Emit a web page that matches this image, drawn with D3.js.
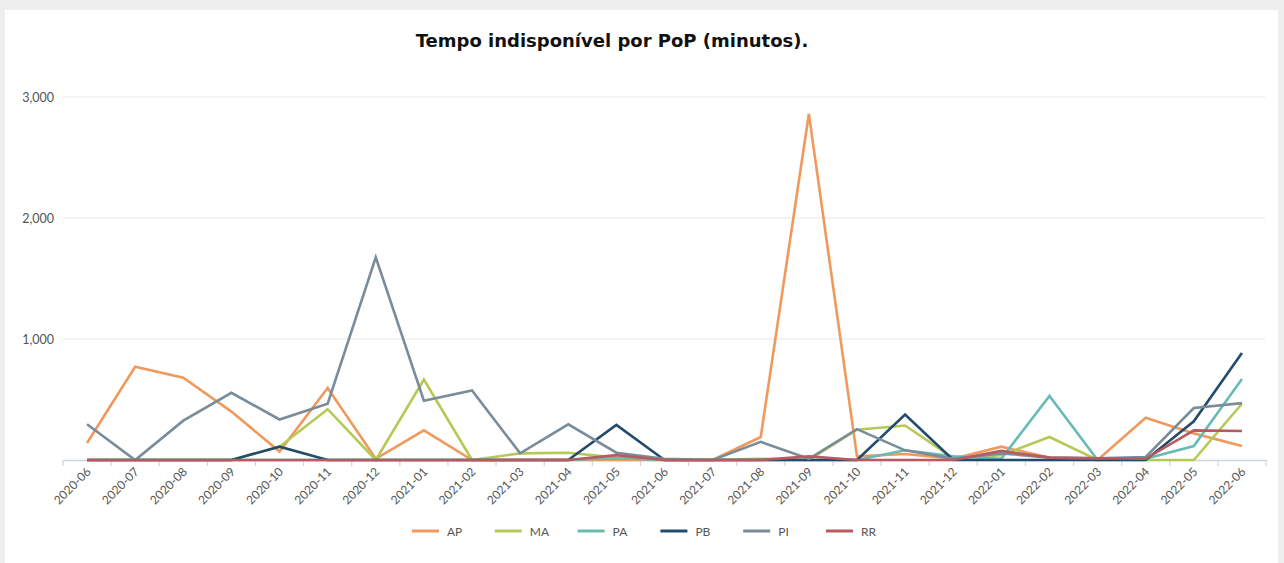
<!DOCTYPE html>
<html><head><meta charset="utf-8">
<script src="https://cdn.jsdelivr.net/npm/d3@7"></script>
<style>
html,body{margin:0;padding:0;background:#eeeeee;}
svg{display:block;}
</style></head>
<body>
<svg id="chart" width="1284" height="563"></svg>
<script>
const months = ["2020-06","2020-07","2020-08","2020-09","2020-10","2020-11","2020-12","2021-01","2021-02","2021-03","2021-04","2021-05","2021-06","2021-07","2021-08","2021-09","2021-10","2021-11","2021-12","2022-01","2022-02","2022-03","2022-04","2022-05","2022-06"];
const seriesNames = ["AP","MA","PA","PB","PI","RR"];
const AP = [140,770,680,400,70,595,10,245,0,0,0,0,0,0,190,2860,30,50,10,110,20,0,350,220,115];
const MA = [0,0,0,0,110,420,0,665,0,55,60,20,0,0,10,0,250,285,15,40,190,0,0,0,465];
const PA = [0,0,0,0,0,0,0,0,0,0,0,15,0,0,0,0,0,80,30,10,530,0,10,115,670];
const PB = [0,0,0,0,110,0,0,0,0,0,0,290,0,0,0,0,0,375,0,0,0,0,0,320,885];
const PI = [295,0,325,555,335,465,1675,490,575,55,295,60,10,0,150,10,255,80,10,55,20,15,25,430,470];
const RR = [0,0,0,0,0,0,0,0,0,0,0,40,0,0,0,30,0,0,0,75,20,15,10,245,240];
const yTicks = [0,1000,2000,3000];
const colors = ["#f0995d","#b5c957","#68bab6","#244b6c","#7a8c99","#b85a5f"];

(function(){
const data = [AP,MA,PA,PB,PI,RR];
const svg = d3.select("#chart");
const font = "Lato, 'Open Sans', sans-serif";

// white panel
svg.append("rect").attr("x",5).attr("y",10).attr("width",1273).attr("height",553).attr("fill","#ffffff");

const mLeft = 63, mRight = 1266, mTop = 97, mBottom = 460;
const x = d3.scaleBand().domain(months).range([mLeft,mRight]);
const y = d3.scaleLinear().domain([0,3000]).range([mBottom,mTop]);

// gridlines
svg.append("g").selectAll("line").data(yTicks.filter(d=>d>0)).join("line")
  .attr("x1",mLeft).attr("x2",mRight-1).attr("y1",d=>y(d)).attr("y2",d=>y(d))
  .attr("stroke","#e3e7ee").attr("stroke-width",1);

// y labels
svg.append("g").selectAll("text").data(yTicks.filter(d=>d>0)).join("text")
  .attr("x",54).attr("y",d=>y(d)+4.5).attr("text-anchor","end")
  .attr("font-family",font).attr("font-size",12.5).attr("fill","#555")
  .text(d=>d3.format(",")(d));

// x axis
const xAxis = d3.axisBottom(x).tickSize(0).tickFormat(d=>d);
const gx = svg.append("g").attr("transform",`translate(0,${mBottom})`).call(xAxis);
gx.select(".domain").attr("stroke","#ccd5df").attr("stroke-width",1.5);
gx.selectAll(".tick text")
  .attr("font-family",font).attr("font-size",12).attr("fill","#555")
  .attr("text-anchor","end").attr("dy",0).attr("y",0)
  .attr("transform","translate(4.5,12.5) rotate(-45)");
// boundary ticks
const bounds = months.map(m=>x(m)).concat([mRight]);
svg.append("g").selectAll("line").data(bounds).join("line")
  .attr("x1",d=>d).attr("x2",d=>d).attr("y1",mBottom).attr("y2",mBottom+6)
  .attr("stroke","#ccd5df").attr("stroke-width",1.2);

// lines
const line = d3.line().x((d,i)=>x(months[i])+x.bandwidth()/2).y(d=>y(d));
svg.append("g").selectAll("path").data(data).join("path")
  .attr("d",d=>line(d)).attr("fill","none")
  .attr("stroke",(d,i)=>colors[i]).attr("stroke-width",2.6)
  .attr("stroke-linejoin","miter");

// title
svg.append("text").attr("x",612).attr("y",47).attr("text-anchor","middle")
  .attr("font-family","'DejaVu Sans', sans-serif").attr("font-weight","bold")
  .attr("font-size",18).attr("fill","#111").text("Tempo indisponível por PoP (minutos).");

// legend
const lg = svg.append("g").selectAll("g").data(seriesNames).join("g")
  .attr("transform",(d,i)=>`translate(${412 + i*82.8},531)`);
lg.append("line").attr("x1",0).attr("x2",27).attr("y1",0).attr("y2",0)
  .attr("stroke",(d,i)=>colors[i]).attr("stroke-width",3);
lg.append("text").attr("x",35).attr("y",4.5)
  .attr("font-family",font).attr("font-size",12).attr("fill","#555")
  .text(d=>d);
})();
</script>
</body></html>
